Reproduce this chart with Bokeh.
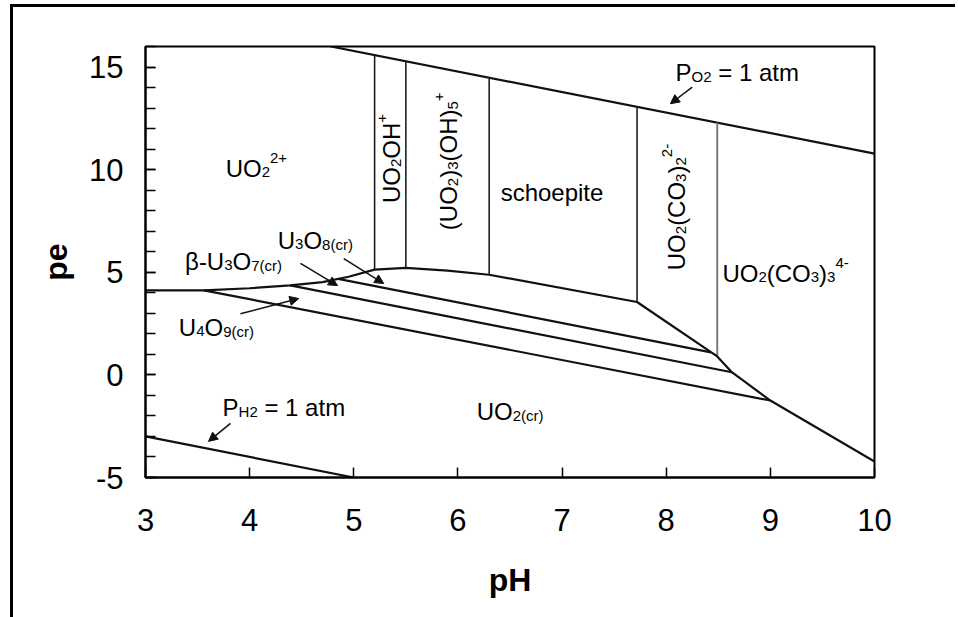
from bokeh.plotting import figure
from bokeh.models import Label, Arrow, NormalHead, FixedTicker
from bokeh.embed import file_html
from bokeh.resources import INLINE

# ---- phase boundaries (pH, pe) ----
o2_ph = [4.78, 10.0]              # P_O2 = 1 atm limit
o2_pe = [16.0, 10.78]
h2_ph = [3.0, 5.0]                # P_H2 = 1 atm limit
h2_pe = [-3.0, -5.0]

# aqueous-species / schoepite boundaries (vertical)
vert_ph = [5.2, 5.5, 6.3, 7.72]
vert_top = [15.58, 15.28, 14.48, 13.06]
vert_bot = [5.13, 5.21, 4.88, 3.55]
carb_ph = [8.49, 8.49]            # UO2(CO3)2 2- / UO2(CO3)3 4-
carb_pe = [12.29, 0.9]

# lower edge of the aqueous / schoepite fields
edge_ph = [3.0, 3.56, 4.0, 4.39, 4.7, 4.95, 5.2, 5.5, 5.9, 6.3, 7.72, 8.49, 8.63, 9.0, 10.0]
edge_pe = [4.12, 4.12, 4.22, 4.36, 4.52, 4.78, 5.13, 5.21, 5.08, 4.88, 3.55, 0.9, 0.13, -1.25, -4.22]

# solid-solid boundaries
uo2_u4o9_ph = [3.56, 9.0]
uo2_u4o9_pe = [4.12, -1.25]
u4o9_u3o7_ph = [4.39, 8.63]
u4o9_u3o7_pe = [4.36, 0.13]
u3o7_u3o8_ph = [4.85, 8.43]
u3o7_u3o8_pe = [4.68, 1.1]

x_ticks = [3, 4, 5, 6, 7, 8, 9, 10]
y_ticks = [-5, 0, 5, 10, 15]
y_tick_text = {-5: "-5", 0: "0", 5: "5", 10: "10", 15: "15"}
y_minor = list(range(-5, 17))

FONT = "Liberation Sans"
MAIN = 24
SMALL = 15
SUB_DROP = 4
SUP_RISE = 10

# Arial / Liberation Sans advance widths (em)
ADV = {' ': .278, '(': .333, ')': .333, '+': .584, '-': .333, '=': .584,
       'β': .575, 'C': .722, 'H': .722, 'O': .778, 'P': .667, 'U': .722,
       'a': .556, 'c': .5, 'e': .556, 'h': .556, 'i': .222, 'm': .833,
       'o': .556, 'p': .556, 'r': .333, 's': .5, 't': .278}


def width(s, size):
    return sum(ADV.get(ch, .556) for ch in s) * size


p = figure(width=945, height=616, x_range=(3, 10), y_range=(-5, 16),
           output_backend="svg", toolbar_location=None,
           min_border_left=132, min_border_right=84,
           min_border_top=39, min_border_bottom=146)
p.margin = (4, 0, 0, 10)
p.styles = {"border-left": "3px solid black", "border-top": "3px solid black"}
p.background_fill_color = "white"
p.border_fill_color = "white"
p.outline_line_color = "black"
p.outline_line_width = 2
p.xgrid.visible = False
p.ygrid.visible = False

for ax in (p.xaxis[0], p.yaxis[0]):
    ax.axis_line_width = 2
    ax.axis_line_color = "black"
    ax.major_tick_in = 10
    ax.major_tick_out = 0
    ax.major_tick_line_width = 1.5
    ax.major_tick_line_color = "black"
    ax.major_label_text_font = FONT
    ax.major_label_text_font_size = "31px"
    ax.major_label_text_color = "black"
    ax.axis_label_text_font = FONT
    ax.axis_label_text_font_size = "32px"
    ax.axis_label_text_font_style = "bold"
    ax.axis_label_text_color = "black"

p.xaxis.ticker = FixedTicker(ticks=x_ticks)
p.xaxis.minor_tick_line_color = None
p.xaxis.major_label_standoff = 31
p.xaxis.axis_label = "pH"
p.xaxis.axis_label_standoff = 28

p.yaxis.ticker = FixedTicker(ticks=y_ticks, minor_ticks=y_minor)
p.yaxis.major_label_overrides = y_tick_text
p.yaxis.minor_tick_in = 10
p.yaxis.minor_tick_out = 0
p.yaxis.minor_tick_line_width = 1.5
p.yaxis.minor_tick_line_color = "black"
p.yaxis.major_label_standoff = 22
p.yaxis.axis_label = "pe"
p.yaxis.axis_label_standoff = 12

INK = "#111111"
p.line(o2_ph, o2_pe, line_color=INK, line_width=2.2)
p.line(h2_ph, h2_pe, line_color=INK, line_width=2.2)
p.segment(x0=vert_ph, y0=vert_bot, x1=vert_ph, y1=vert_top, line_color=INK, line_width=1.5)
p.line(carb_ph, carb_pe, line_color="#7a7a7a", line_width=2)
p.line(edge_ph, edge_pe, line_color=INK, line_width=2.2)
p.line(uo2_u4o9_ph, uo2_u4o9_pe, line_color=INK, line_width=2.2)
p.line(u4o9_u3o7_ph, u4o9_u3o7_pe, line_color=INK, line_width=2.2)
p.line(u3o7_u3o8_ph, u3o7_u3o8_pe, line_color=INK, line_width=2.2)


def chem(x, y, parts, angle=0.0):
    """Place a formula with sub/superscripts; (x, y) is the baseline start."""
    pos = 0.0
    for s, role in parts:
        size = MAIN if role == "n" else SMALL
        shift = {"n": 0, "b": -SUB_DROP, "p": SUP_RISE}[role]
        lead = len(s) - len(s.lstrip(" "))
        pos += width(" " * lead, size)
        s = s.lstrip(" ")
        if angle == 0.0:
            dx, dy = pos, shift
        else:
            dx, dy = -shift - 8, pos
        p.add_layout(Label(x=x, y=y, x_offset=dx, y_offset=dy, text=s, angle=angle,
                           text_font=FONT, text_font_size=f"{size}px", text_color="black",
                           text_align="left", text_baseline="alphabetic"))
        pos += width(s, size)


UP = 1.5707963
chem(3.77, 10.07, [("UO", "n"), ("2", "b"), ("2+", "p")])
chem(4.27, 6.56, [("U", "n"), ("3", "b"), ("O", "n"), ("8(cr)", "b")])
chem(3.38, 5.54, [("β-U", "n"), ("3", "b"), ("O", "n"), ("7(cr)", "b")])
chem(3.32, 2.33, [("U", "n"), ("4", "b"), ("O", "n"), ("9(cr)", "b")])
chem(3.74, -1.58, [("P", "n"), ("H2", "b"), (" = 1 atm", "n")])
chem(6.18, -1.8, [("UO", "n"), ("2(cr)", "b")])
chem(6.41, 8.87, [("schoepite", "n")])
chem(8.09, 14.74, [("P", "n"), ("O2", "b"), (" = 1 atm", "n")])
chem(8.54, 4.94, [("UO", "n"), ("2", "b"), ("(CO", "n"), ("3", "b"), (")", "n"),
                  ("3", "b"), ("4-", "p")])
chem(5.44, 8.37, [("UO", "n"), ("2", "b"), ("OH", "n"), ("+", "p")], angle=UP)
chem(5.99, 7.05, [("(UO", "n"), ("2", "b"), (")", "n"), ("3", "b"), ("(OH)", "n"),
                  ("5", "b"), ("+", "p")], angle=UP)
chem(8.18, 5.1, [("UO", "n"), ("2", "b"), ("(CO", "n"), ("3", "b"), (")", "n"),
                 ("2", "b"), ("2-", "p")], angle=UP)

# pointers from labels to their fields
pointers = [
    (8.25, 14.02, 8.04, 13.21),
    (3.816, -2.36, 3.605, -3.24),
    (4.488, 5.43, 4.844, 4.35),
    (4.904, 5.67, 5.288, 4.45),
    (3.912, 2.98, 4.472, 3.72),
]
for x0, y0, x1, y1 in pointers:
    p.add_layout(Arrow(x_start=x0, y_start=y0, x_end=x1, y_end=y1,
                       line_color=INK, line_width=1.5,
                       end=NormalHead(size=9, fill_color=INK, line_color=INK)))

open("out.html", "w").write(file_html(p, INLINE))
